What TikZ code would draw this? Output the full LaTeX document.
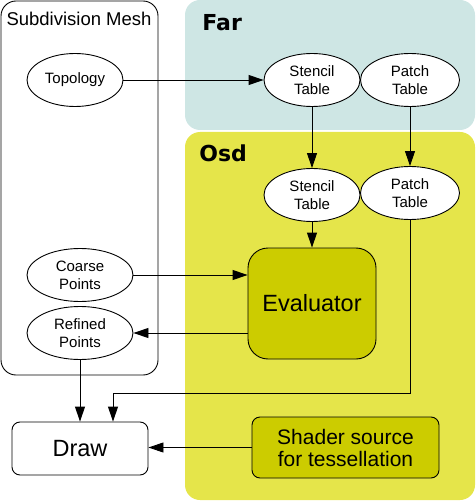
\documentclass[tikz,border=0pt]{standalone}
\usepackage{fontspec}
\setmainfont{Liberation Sans}
\newfontfamily\boldlabel{DejaVu Sans}
\usetikzlibrary{shapes.geometric,arrows.meta}
\definecolor{farfill}{RGB}{206,230,228}
\definecolor{osdfill}{RGB}{229,229,74}
\definecolor{evalfill}{RGB}{204,204,0}
\begin{document}
\begin{tikzpicture}[x=1pt,y=-1pt,
  line width=0.9pt,
  arr/.style={-{Triangle[length=15pt,width=10pt]}},
  oval/.style={ellipse,draw,fill=white,inner sep=0pt,minimum width=96pt,minimum height=53pt,align=center,font=\fontsize{15}{18}\selectfont},
  boxnode/.style={draw,rounded corners=8pt,inner sep=0pt,align=center},
  grp/.style={rounded corners=15pt}
]
\useasboundingbox (0,0) rectangle (475,502);
% group backgrounds
\path[grp,fill=farfill] (185,0) rectangle (475,130);
\path[grp,fill=osdfill] (185,132) rectangle (475,500);
\draw[grp] (1,1) rectangle (158,375);
\node[anchor=base,font=\fontsize{18.5}{22}\selectfont] (mesh) at (79,26) {Subdivision Mesh};
\node[anchor=base west,inner sep=0pt,font=\boldlabel\bfseries\fontsize{22}{26}\selectfont] (far) at (202,31) {Far};
\node[anchor=base west,inner sep=0pt,font=\boldlabel\bfseries\fontsize{22}{26}\selectfont] (osd) at (199,162) {Osd};
% nodes
\node[oval] (topo) at (75,80) {Topology};
\node[oval] (fst) at (312,80) {Stencil\\Table};
\node[oval,minimum width=99pt] (fpt) at (410,80) {Patch\\Table};
\node[oval] (ost) at (312,195) {Stencil\\Table};
\node[oval,minimum width=99pt] (opt) at (410,193) {Patch\\Table};
\node[oval,minimum width=106pt] (coarse) at (80,275) {Coarse\\Points};
\node[oval,minimum width=106pt] (refined) at (80,333) {Refined\\Points};
\node[boxnode,fill=white,minimum width=136pt,minimum height=53pt,font=\fontsize{23.5}{27}\selectfont] (draw) at (80,448.5) {Draw};
\node[boxnode,rounded corners=20pt,fill=evalfill,minimum width=128pt,minimum height=111pt,font=\fontsize{23.5}{27}\selectfont] (eval) at (312,303.5) {Evaluator};
\node[boxnode,fill=evalfill,minimum width=187pt,minimum height=61pt,font=\fontsize{21}{22}\selectfont] (shader) at (345.5,447.5) {Shader source\\for tessellation};
\coordinate (pd1) at (410,393);
\coordinate (pd2) at (113,393);
% connectors
\draw[arr] (topo.east) -- (fst.west);
\draw[arr] (fst.south) -- (ost.north);
\draw[arr] (fpt.south) -- (opt.north);
\draw[arr] (ost.south) -- (eval.north);
\draw[arr] (coarse.east) -- (coarse.east -| eval.west);
\draw[arr] (eval.west |- refined.east) -- (refined.east);
\draw[arr] (refined.south) -- (refined.south |- draw.north);
\draw[arr] (opt.south) -- (pd1) -- (pd2) -- (pd2 |- draw.north);
\draw[arr] (shader.west) -- (shader.west -| draw.east);
\end{tikzpicture}
\end{document}
